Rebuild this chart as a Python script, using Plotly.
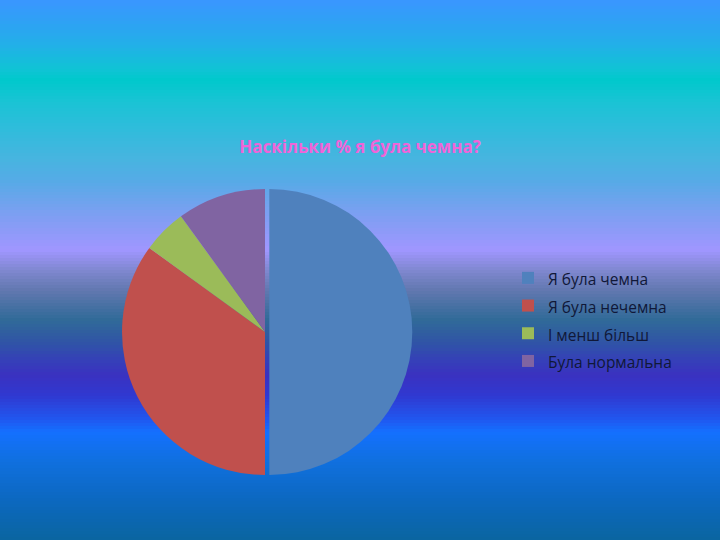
import plotly.graph_objects as go

labels = ["Я була чемна", "Я була нечемна", "І менш більш", "Була нормальна"]
values = [50, 35, 5, 10]
colors = ["#4F81BD", "#C0504D", "#9BBB59", "#8064A2"]
title_text = "Наскільки % я була чемна?"

# background gradient stops (y pixel from top, colour)
bg_stops = [
    (0, "#3a96ff"), (30, "#2aa6f0"), (45, "#22b0e8"), (70, "#0fc4d4"),
    (80, "#00c8cc"), (100, "#18c4d4"), (130, "#30bcdc"), (160, "#48b4e0"),
    (180, "#55abe6"), (210, "#78a0f0"), (250, "#a096ff"), (270, "#8088d0"),
    (290, "#6278b0"), (320, "#306a98"), (345, "#3052a8"), (360, "#3540b8"),
    (375, "#3a32c0"), (395, "#3038d0"), (420, "#2058f0"), (432, "#1470ff"),
    (460, "#1070e0"), (500, "#0c68c0"), (540, "#0a65a0"),
]

W, H = 720, 540


def hex2rgb(h):
    h = h.lstrip("#")
    return tuple(int(h[i:i + 2], 16) for i in (0, 2, 4))


def color_at(y):
    for (y0, c0), (y1, c1) in zip(bg_stops, bg_stops[1:]):
        if y0 <= y <= y1:
            t = (y - y0) / (y1 - y0) if y1 > y0 else 0
            a, b = hex2rgb(c0), hex2rgb(c1)
            return "rgb(%d,%d,%d)" % tuple(round(a[i] + (b[i] - a[i]) * t) for i in range(3))
    return bg_stops[-1][1]


shapes = []
step = 3
for y in range(0, H, step):
    shapes.append(dict(
        type="rect", xref="paper", yref="paper", layer="below",
        x0=0, x1=1, y0=1 - (y + step) / H, y1=1 - y / H,
        fillcolor=color_at(y + step / 2), line=dict(width=0),
    ))

pull = [0.03, 0, 0, 0]
cx, cy, r = 265, 332, 143 * 1.03

legend_labels = ['<span style="font-size:15.5px">%s</span>' % s for s in labels]

fig = go.Figure(go.Pie(
    labels=legend_labels, values=values, sort=False, direction="clockwise", rotation=0,
    marker=dict(colors=colors, line=dict(width=0)),
    pull=pull, textinfo="none", hoverinfo="label+percent",
    domain=dict(x=[(cx - r) / W, (cx + r) / W], y=[(H - cy - r) / H, (H - cy + r) / H]),
))

fig.update_layout(
    width=W, height=H,
    margin=dict(l=0, r=0, t=0, b=0),
    paper_bgcolor="#1a6aff", plot_bgcolor="rgba(0,0,0,0)",
    shapes=shapes,
    title=dict(text="<b>" + title_text + "</b>", x=0.5, xanchor="center",
               y=1 - 147 / H, yanchor="middle",
               font=dict(family="Open Sans", size=17, color="#f064d8")),
    legend=dict(x=508 / W, y=1 - 259 / H, xanchor="left", yanchor="top",
                font=dict(family="Open Sans", size=19, color="#101838"),
                bgcolor="rgba(0,0,0,0)", itemwidth=30),
    showlegend=True,
)

fig.write_html("out.html", config={"displayModeBar": False},
               post_script="document.body.style.margin='0';document.body.style.overflow='hidden';")
